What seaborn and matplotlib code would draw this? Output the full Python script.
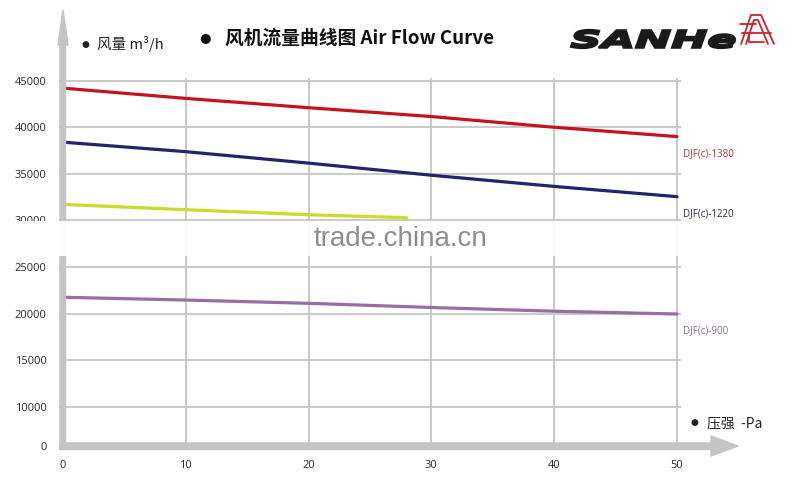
import numpy as np
import pandas as pd
import matplotlib
matplotlib.use("Agg")
import matplotlib.pyplot as plt
import matplotlib.transforms as mtransforms
from matplotlib.patches import Polygon, Rectangle, PathPatch
from matplotlib.lines import Line2D
from matplotlib.textpath import TextPath
from matplotlib.font_manager import FontProperties
import seaborn as sns

# 数据
pressure = [0, 10, 20, 30, 40, 50]
flow_1380 = [44200, 43100, 42100, 41150, 40000, 39000]
flow_1220 = [38400, 37380, 36150, 34850, 33650, 32550]
flow_900 = [21750, 21450, 21100, 20650, 20250, 19950]
# 黄线在水印处消失
pressure_yellow = [0, 10, 20, 28]
flow_yellow = [31720, 31150, 30610, 30290]

ytick_values = [5780, 10000, 15000, 20000, 25000, 30000, 35000, 40000, 45000]
ytick_labels = ["0", "10000", "15000", "20000", "25000", "30000", "35000", "40000", "45000"]
xtick_values = [0, 10, 20, 30, 40, 50]

colors = {
    "DJF(c)-1380": "#c4141f",
    "DJF(c)-1220": "#23236e",
    "yellow": "#c9dc2a",
    "DJF(c)-900": "#9b6ba8",
}
label_colors = {
    "DJF(c)-1380": "#b0342c",
    "DJF(c)-1220": "#2a2a5e",
    "DJF(c)-900": "#8a6a94",
}

df = pd.concat([
    pd.DataFrame({"pressure": pressure, "flow": flow_1380, "model": "DJF(c)-1380"}),
    pd.DataFrame({"pressure": pressure, "flow": flow_1220, "model": "DJF(c)-1220"}),
    pd.DataFrame({"pressure": pressure_yellow, "flow": flow_yellow, "model": "yellow"}),
    pd.DataFrame({"pressure": pressure, "flow": flow_900, "model": "DJF(c)-900"}),
])

sns.set_style("white")
plt.rcParams["font.family"] = ["Noto Sans CJK SC", "DejaVu Sans"]

W, H = 800, 499
fig = plt.figure(figsize=(8, 4.99), dpi=100)


def fx(x):
    return x / W


def fy(y):
    return 1 - y / H


# 坐标区
ax = fig.add_axes([fx(59.3), fy(446), (680.7 - 59.3) / W, (446 - 77.9) / H])
ax.set_facecolor("none")

sns.lineplot(data=df, x="pressure", y="flow", hue="model", palette=colors,
             linewidth=2.3, legend=False, ax=ax, zorder=3)

ax.set_xlim(-0.3, 50.3)
ax.set_ylim(5780, 45300)
ax.set_xticks(xtick_values)
ax.set_xticklabels([str(v) for v in xtick_values])
ax.set_yticks(ytick_values)
ax.set_yticklabels(ytick_labels)
ax.grid(True, color="#c6c6c6", linewidth=1.3)
ax.set_axisbelow(True)
for s in ax.spines.values():
    s.set_visible(False)
ax.tick_params(axis="both", length=0, labelsize=8, labelcolor="#2a2a2a")
ax.tick_params(axis="y", pad=9)
ax.tick_params(axis="x", pad=10)
for lab in ax.get_xticklabels() + ax.get_yticklabels():
    lab.set_family(["Open Sans", "DejaVu Sans"])
ax.set_xlabel("")
ax.set_ylabel("")

# 型号标注
for name, vals in [("DJF(c)-1380", flow_1380), ("DJF(c)-1220", flow_1220), ("DJF(c)-900", flow_900)]:
    ax.annotate(name, xy=(pressure[-1], vals[-1]), xytext=(4.5, -12), textcoords="offset points",
                ha="left", va="center", fontsize=7, color=label_colors[name],
                family=["Open Sans", "DejaVu Sans"], annotation_clip=False)

# 坐标轴箭头
axis_grey = "#c4c4c4"
fig.add_artist(Polygon([(fx(60), fy(449)), (fx(60), fy(45)), (fx(58), fy(45)), (fx(63), fy(10)),
                        (fx(68), fy(45)), (fx(65.5), fy(45)), (fx(65.5), fy(449))],
                       closed=True, transform=fig.transFigure, color=axis_grey, zorder=4))
fig.add_artist(Polygon([(fx(60), fy(443)), (fx(711), fy(443)), (fx(711), fy(436)), (fx(738), fy(446)),
                        (fx(711), fy(456)), (fx(711), fy(449.5)), (fx(60), fy(449.5))],
                       closed=True, transform=fig.transFigure, color=axis_grey, zorder=4))

# 标题文字
fig.text(fx(85), fy(44), "●", fontsize=6.5, family="DejaVu Sans", color="#222222", ha="center", va="center")
fig.text(fx(97), fy(44), "风量 m³/h", fontsize=10.5, color="#222222", ha="left", va="center",
         family=["Noto Sans CJK SC", "DejaVu Sans"])
fig.text(fx(205), fy(38), "●", fontsize=9.5, family="DejaVu Sans", color="#111111", ha="center", va="center")
fig.text(fx(225), fy(38), "风机流量曲线图 Air Flow Curve", fontsize=13.5, fontweight="bold",
         color="#111111", ha="left", va="center", family=["Noto Sans CJK SC", "DejaVu Sans"])
fig.text(fx(694), fy(423), "●", fontsize=6.5, family="DejaVu Sans", color="#222222", ha="center", va="center")
fig.text(fx(707), fy(423), "压强  -Pa", fontsize=10, color="#222222", ha="left", va="center",
         family=["Noto Sans CJK SC", "DejaVu Sans"])

# 标志 SANHE
tp = TextPath((0, 0), "SANHe", size=1,
              prop=FontProperties(family="DejaVu Sans", weight="bold", style="italic"))
bb = tp.get_extents()
sx = (735 - 571) / W / bb.width
sy = (48 - 30) / H / bb.height
tr = mtransforms.Affine2D().translate(-bb.x0, -bb.y0).scale(sx, sy).translate(fx(571), fy(48)) + fig.transFigure
fig.add_artist(PathPatch(tp, transform=tr, facecolor="#1a1a1a", edgecolor="#1a1a1a",
                         linewidth=1.6, zorder=5))

logo_red = "#c8242b"
logo_lines = [
    [(741, 44), (751, 15), (761, 15), (774, 44)],
    [(746, 44), (754, 20), (758, 20), (768, 44)],
    [(740, 24), (756, 24)],
    [(742, 33), (771, 33)],
    [(749, 33), (749, 42), (764, 42)],
]
for pts in logo_lines:
    xs = [fx(p[0]) for p in pts]
    ys = [fy(p[1]) for p in pts]
    fig.add_artist(Line2D(xs, ys, transform=fig.transFigure, color=logo_red, linewidth=1.3, zorder=5))

# 水印条
fig.add_artist(Rectangle((fx(12), fy(256)), (745 - 12) / W, (256 - 221) / H,
                         transform=fig.transFigure, facecolor="white", edgecolor="none",
                         alpha=0.94, zorder=6))
fig.text(fx(400), fy(239), "trade.china.cn", fontsize=20, color="#8e8e8e", ha="center", va="center",
         family="Liberation Sans", zorder=7)

fig.savefig("out.png", dpi=100)
